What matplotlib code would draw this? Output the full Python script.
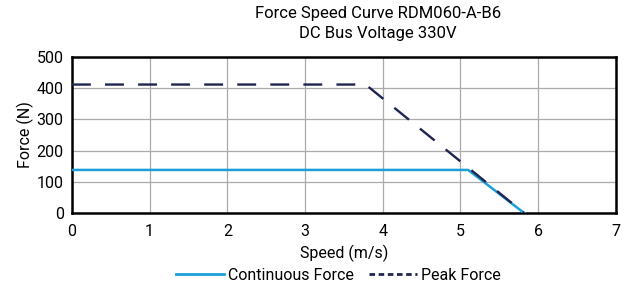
import matplotlib.pyplot as plt
from matplotlib.lines import Line2D

plt.rcParams['font.family'] = ['Roboto', 'DejaVu Sans']

# data
cont_speed = [0, 5.1, 5.82]
cont_force = [138, 138, 0]
peak_speed = [0, 3.78, 5.82]
peak_force = [412, 412, 0]

fig = plt.figure(figsize=(6.33, 2.87), dpi=100)
ax = fig.add_axes([0.1137, 0.258, 0.859, 0.543])

ax.plot(cont_speed, cont_force, color='#1a9fdb', lw=1.8, zorder=3)
ax.plot(peak_speed, peak_force, color='#1f2550', lw=1.7, ls=(0, (8, 6)), zorder=4)

ax.set_xlim(0, 7)
ax.set_ylim(0, 500)
ax.set_xticks(range(0, 8))
ax.set_yticks(range(0, 501, 100))
ax.grid(True, color='#aaaaaa', lw=0.9)
ax.tick_params(length=0, labelsize=11.5)
ax.tick_params(axis='x', pad=8)
ax.tick_params(axis='y', pad=6)
for s in ax.spines.values():
    s.set_linewidth(1.8)
    s.set_color('black')

ax.set_xlabel('Speed (m/s)', fontsize=11.5, labelpad=4)
ax.set_ylabel('Force (N)', fontsize=11.5, labelpad=2)

fig.text(0.597, 0.978, 'Force Speed Curve RDM060-A-B6\nDC Bus Voltage 330V',
         ha='center', va='top', fontsize=12, linespacing=1.35)

handles = [Line2D([], [], color='#1a9fdb', lw=2),
           Line2D([], [], color='#1f2550', lw=2, ls=(0, (2, 1.3)))]
ax.legend(handles, ['Continuous Force', 'Peak Force'], loc='upper center',
          bbox_to_anchor=(0.49, -0.26), ncol=2, frameon=False, fontsize=11.5,
          handlelength=3.0, handletextpad=0.2, columnspacing=1.0)

fig.savefig('out.png', dpi=100)
